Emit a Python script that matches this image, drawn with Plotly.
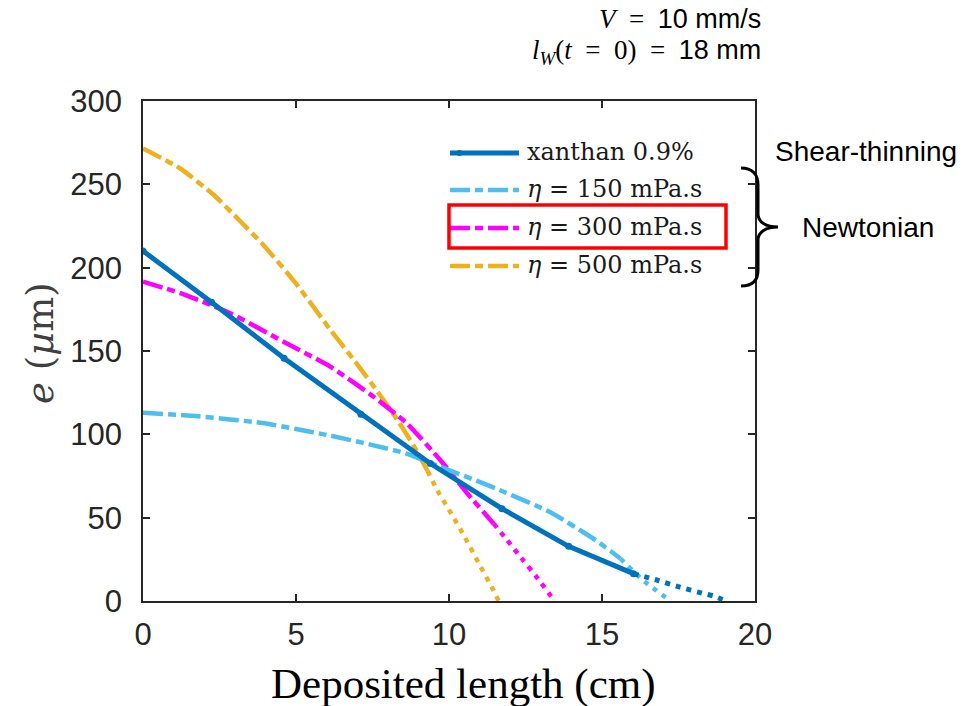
import plotly.graph_objects as go

# ---------------- data ----------------
xan_x = [0, 2.24, 4.61, 7.12, 9.39, 11.73, 13.91, 16.03]
xan_y = [210, 179.2, 145.6, 112, 82.5, 55.4, 32.8, 16.4]
xan_tail_x = [16.03, 16.84, 17.55, 18.27, 18.65, 19.05]
xan_tail_y = [16.4, 12.3, 8.3, 4.7, 3.0, 0]

n150_x = [0, 1.8, 3.9, 5.0, 6.1, 7.4, 8.6, 10.0, 11.0, 11.8, 13.3, 14.8, 15.6]
n150_y = [113, 110.8, 106.8, 103.2, 99.3, 94, 88.5, 78.5, 71.5, 65.4, 53.4, 36.4, 25.5]
n150_tail_x = [15.6, 16.0, 16.4, 16.75, 17.07, 17.25]
n150_tail_y = [25.5, 18.3, 11.5, 6.7, 2.3, 0]

n300_x = [0, 1.22, 2.85, 4.59, 6.12, 7.54, 8.62, 9.72, 10.6, 11.46]
n300_y = [191.6, 184.7, 172.7, 155.6, 140.6, 122.5, 106.6, 84.5, 64.5, 46.4]
n300_tail_x = [11.46, 11.9, 12.4, 12.9, 13.45]
n300_tail_y = [46.4, 36.5, 25, 13.5, 0]

n500_x = [0, 1.22, 2.35, 3.17, 3.94, 5.02, 6.11, 6.94, 7.65, 8.3, 8.85, 9.3]
n500_y = [271.5, 259.5, 243, 228, 213.5, 190, 163, 143.5, 126, 109, 93, 78]
n500_tail_x = [9.3, 9.6, 10.04, 10.48, 11.02, 11.4, 11.62]
n500_tail_y = [78, 67, 53.5, 39.5, 21, 8.3, 0]

x_ticks = [0, 5, 10, 15, 20]
y_ticks = [0, 50, 100, 150, 200, 250, 300]

legend_labels = ["xanthan 0.9%", "<i>η</i> = 150 mPa.s",
                 "<i>η</i> = 300 mPa.s", "<i>η</i> = 500 mPa.s"]

C_XAN = "#0072BD"
C_150 = "#4DBEEE"
C_300 = "#FF00FF"
C_500 = "#EDB120"
DASHDOT = "20px,5px,8px,5px"
DOT = "5px,6px"

W, H = 967, 706
L, R, T, B = 143, 755, 101, 601


def PX(x):
    return (x - L) / (R - L)


def PY(y):
    return (B - y) / (B - T)


fig = go.Figure()

# Newtonian curves
for xs, ys, txs, tys, col in [
    (n500_x, n500_y, n500_tail_x, n500_tail_y, C_500),
    (n300_x, n300_y, n300_tail_x, n300_tail_y, C_300),
    (n150_x, n150_y, n150_tail_x, n150_tail_y, C_150),
]:
    fig.add_trace(go.Scatter(x=xs, y=ys, mode="lines", showlegend=False,
                             line=dict(color=col, width=4.5, dash=DASHDOT,
                                       shape="spline", smoothing=0.5)))
    fig.add_trace(go.Scatter(x=txs, y=tys, mode="lines", showlegend=False,
                             line=dict(color=col, width=4.5, dash=DOT,
                                       shape="spline", smoothing=0.5)))

# xanthan
fig.add_trace(go.Scatter(x=xan_tail_x, y=xan_tail_y, mode="lines", showlegend=False,
                         line=dict(color=C_XAN, width=5, dash=DOT,
                                   shape="spline", smoothing=0.5)))
fig.add_trace(go.Scatter(x=xan_x, y=xan_y, mode="lines+markers", showlegend=False,
                         line=dict(color=C_XAN, width=5),
                         marker=dict(color=C_XAN, size=7)))

AX = dict(showline=True, mirror="ticks", linecolor="#262626", linewidth=1.5,
          ticks="inside", ticklen=7, tickwidth=1.5, tickcolor="#262626",
          showgrid=False, zeroline=False,
          tickfont=dict(family="Liberation Sans", size=31, color="#262626"))

fig.update_layout(
    width=W, height=H, autosize=False,
    margin=dict(l=L, r=W - R, t=T, b=H - B, pad=0),
    paper_bgcolor="white", plot_bgcolor="white",
    xaxis=dict(range=[0, 20], tickvals=x_ticks, ticklabelstandoff=5, **AX),
    yaxis=dict(range=[0, 300], tickvals=y_ticks, ticklabelstandoff=13, **AX),
    showlegend=False,
)

shapes = []
annos = []

# manual legend
leg_y = [153, 190, 228, 266]
leg_cols = [C_XAN, C_150, C_300, C_500]
leg_dash = ["solid", DASHDOT, DASHDOT, DASHDOT]
for yy, col, dsh, lab in zip(leg_y, leg_cols, leg_dash, legend_labels):
    shapes.append(dict(type="line", xref="paper", yref="paper",
                       x0=PX(450), x1=PX(519), y0=PY(yy), y1=PY(yy),
                       line=dict(color=col, width=5 if dsh == "solid" else 4.5, dash=dsh)))
    annos.append(dict(xref="paper", yref="paper", x=PX(525), y=PY(yy - 1),
                      xanchor="left", yanchor="middle", showarrow=False, text=lab,
                      font=dict(family="DejaVu Serif", size=24, color="#1a1a1a")))
shapes.append(dict(type="circle", xref="paper", yref="paper",
                   x0=PX(456.5), x1=PX(462.5), y0=PY(150), y1=PY(156),
                   fillcolor=C_XAN, line=dict(width=0)))

# red box
shapes.append(dict(type="rect", xref="paper", yref="paper",
                   x0=PX(449), x1=PX(726), y0=PY(248), y1=PY(205),
                   line=dict(color="#FF0000", width=3.5)))

# curly brace
def P(x, y):
    return f"{PX(x):.5f},{PY(y):.5f}"

brace = (f"M{P(741,168)} C{P(752,168)} {P(758,174)} {P(758,185)} "
         f"L{P(758,214)} C{P(758,222)} {P(766,227)} {P(778,227)} "
         f"C{P(766,227)} {P(758,232)} {P(758,240)} "
         f"L{P(758,270)} C{P(758,281)} {P(752,286)} {P(741,286)}")
shapes.append(dict(type="path", xref="paper", yref="paper", path=brace,
                   line=dict(color="black", width=3)))

# axis titles
annos.append(dict(xref="paper", yref="paper", x=PX(463), y=PY(684),
                  xanchor="center", yanchor="middle", showarrow=False,
                  text="Deposited length (cm)",
                  font=dict(family="Liberation Serif", size=43, color="black")))
annos.append(dict(xref="paper", yref="paper", x=PX(40), y=PY(343),
                  xanchor="center", yanchor="middle", showarrow=False, textangle=-90,
                  text="<i>e</i> (<i>µ</i>m)",
                  font=dict(family="DejaVu Serif", size=37, color="#404040")))

# top-right condition text
SERIF = '<span style="font-family:Liberation Serif">'
annos.append(dict(xref="paper", yref="paper", x=PX(763), y=PY(19),
                  xanchor="right", yanchor="middle", showarrow=False,
                  text=SERIF + "<i>V</i>&nbsp;&nbsp;=&nbsp;&nbsp;</span>10 mm/s",
                  font=dict(family="Liberation Sans", size=27, color="black")))
annos.append(dict(xref="paper", yref="paper", x=PX(763), y=PY(52),
                  xanchor="right", yanchor="middle", showarrow=False,
                  text=SERIF + "<i>l</i><sub><i>W</i></sub>(<i>t</i>&nbsp;&nbsp;=&nbsp;&nbsp;0)"
                       "&nbsp;&nbsp;=&nbsp;&nbsp;</span>18 mm",
                  font=dict(family="Liberation Sans", size=27, color="black")))

annos.append(dict(xref="paper", yref="paper", x=PX(866), y=PY(151),
                  xanchor="center", yanchor="middle", showarrow=False,
                  text="Shear-thinning",
                  font=dict(family="Liberation Sans", size=28, color="black")))
annos.append(dict(xref="paper", yref="paper", x=PX(868), y=PY(227),
                  xanchor="center", yanchor="middle", showarrow=False,
                  text="Newtonian",
                  font=dict(family="Liberation Sans", size=28, color="black")))

fig.update_layout(shapes=shapes, annotations=annos)
fig.write_html("out.html")
